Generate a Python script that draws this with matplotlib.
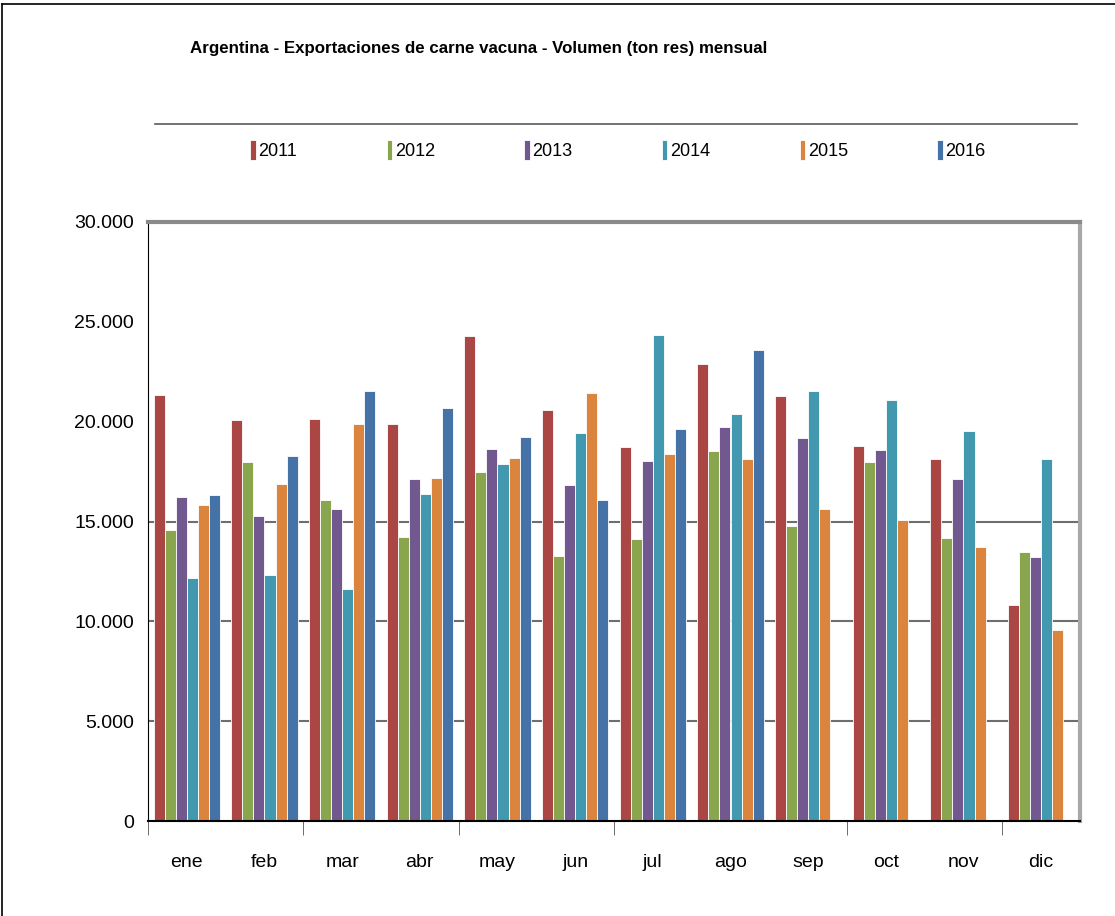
import numpy as np
import matplotlib
matplotlib.use('Agg')
import matplotlib.pyplot as plt
from matplotlib.lines import Line2D
from matplotlib.ticker import FuncFormatter

# datos (toneladas res por mes)
meses = ['ene', 'feb', 'mar', 'abr', 'may', 'jun', 'jul', 'ago', 'sep', 'oct', 'nov', 'dic']
anios = ['2011', '2012', '2013', '2014', '2015', '2016']
v2011 = [21320, 20070, 20130, 19880, 24300, 20580, 18710, 22870, 21270, 18760, 18110, 10800]
v2012 = [14570, 17980, 16090, 14240, 17490, 13270, 14140, 18530, 14760, 17980, 14160, 13460]
v2013 = [16210, 15260, 15610, 17130, 18610, 16810, 18050, 19720, 19170, 18600, 17130, 13210]
v2014 = [12190, 12340, 11640, 16380, 17880, 19420, 24340, 20380, 21520, 21080, 19520, 18150]
v2015 = [15830, 16860, 19880, 17180, 18180, 21420, 18360, 18110, 15610, 15090, 13720, 9550]
v2016 = [16340, 18260, 21530, 20700, 19220, 16060, 19620, 23570, np.nan, np.nan, np.nan, np.nan]
series = [v2011, v2012, v2013, v2014, v2015, v2016]
colores = ['#AA4643', '#89A54E', '#71588F', '#4198AF', '#DB843D', '#4572A7']

plt.rcParams['font.family'] = ['Liberation Sans', 'DejaVu Sans']

fig = plt.figure(figsize=(11.15, 9.16), dpi=100)
ax = fig.add_axes([148 / 1115, 95 / 916, 932 / 1115, 599 / 916])

x = np.arange(len(meses))
ancho = 0.143
for i, (vals, col, anio) in enumerate(zip(series, colores, anios)):
    ax.bar(x + (i - 2.5) * ancho, vals, ancho, color=col, edgecolor='white',
           linewidth=0.6, label=anio, zorder=2)

ax.set_xlim(-0.5, 11.5)
ax.set_ylim(0, 30000)

# lineas de division (solo las que se ven en el original)
for g in [5000, 10000, 15000]:
    ax.axhline(g, color='#6e6e6e', linewidth=1.5, zorder=1)

ax.set_yticks(np.arange(0, 30001, 5000))
ax.yaxis.set_major_formatter(FuncFormatter(lambda v, p: f'{int(v):,}'.replace(',', '.')))
ax.tick_params(axis='y', which='major', length=0, pad=10, labelsize=14)
ax.set_yticks([0, 5000, 10000, 15000], minor=True)
ax.tick_params(axis='y', which='minor', length=5, direction='out', color='#555555')

ax.set_xticks(x)
ax.set_xticklabels(meses)
ax.tick_params(axis='x', which='major', length=0, pad=24, labelsize=14)
ax.set_xticks([-0.5, 1.5, 3.5, 5.5, 8.5, 10.5], minor=True)
ax.tick_params(axis='x', which='minor', length=10, direction='out', color='#555555')

ax.spines['left'].set_color('black')
ax.spines['bottom'].set_color('black')
ax.spines['bottom'].set_linewidth(1.5)
ax.spines['top'].set_color('#8a8a8a')
ax.spines['top'].set_linewidth(3)
ax.spines['right'].set_color('#a8a8a8')
ax.spines['right'].set_linewidth(3)

# titulo
fig.text(190 / 1115, 1 - 48 / 916, 'Argentina - Exportaciones de carne vacuna - Volumen (ton res) mensual',
         fontsize=12.2, fontweight='bold', ha='left', va='center')

# linea bajo el titulo y borde de la figura
fig.add_artist(Line2D([155 / 1115, 1077 / 1115], [1 - 124 / 916, 1 - 124 / 916],
                      color='#5a5a5a', linewidth=1.2))
fig.add_artist(Line2D([2 / 1115, 1], [1 - 4 / 916, 1 - 4 / 916], color='black', linewidth=1.2))
fig.add_artist(Line2D([2 / 1115, 2 / 1115], [0, 1 - 4 / 916], color='black', linewidth=1.2))

fig.legend(loc='center', bbox_to_anchor=(618 / 1115, 1 - 150 / 916), ncol=6, frameon=False,
           fontsize=13, handlelength=0.3, handleheight=1.3, handletextpad=0.15,
           columnspacing=4.95)

plt.savefig('out.png', dpi=100)
